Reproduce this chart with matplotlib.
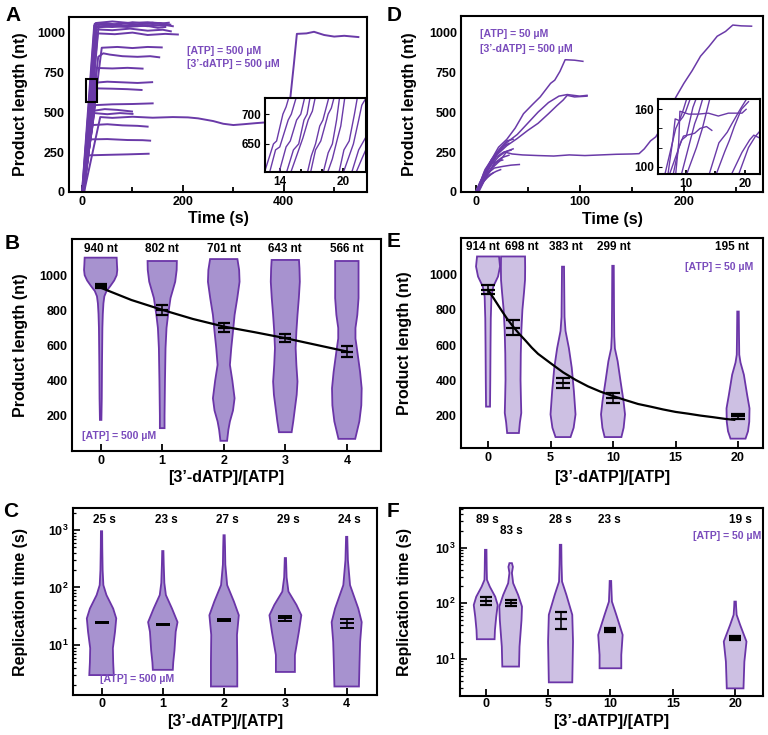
import numpy as np
import matplotlib.pyplot as plt
from matplotlib.patches import Rectangle
from matplotlib.ticker import FixedLocator, LogLocator, NullFormatter

plt.rcParams['font.family'] = ['Liberation Sans', 'DejaVu Sans']
plt.rcParams['font.weight'] = 'bold'
plt.rcParams['axes.labelweight'] = 'bold'
plt.rcParams['mathtext.fontset'] = 'custom'
plt.rcParams['mathtext.rm'] = 'Liberation Sans:bold'
plt.rcParams['mathtext.bf'] = 'Liberation Sans:bold'
plt.rcParams['mathtext.it'] = 'Liberation Sans:bold'
plt.rcParams['axes.linewidth'] = 1.5

TRACE_COLOR = '#6a3aa8'
NOTE_COLOR = '#7a4cbc'
FILL_DARK = '#a792cf'
FILL_LIGHT = '#cdc0e3'
EDGE_COLOR = '#6b35a8'
TICK_FS = 9
LABEL_FS = 11.5
NOTE_FS = 7.6

# ---------------- panel A : single traces, [ATP] = 500 uM ----------------
a_traces = [
    [(0, 0), (24, 1045), (45, 1060), (70, 1050), (100, 1065), (130, 1055), (155, 1060), (175, 1050)],
    [(1, 0), (25, 1055), (50, 1045), (80, 1060), (110, 1050), (140, 1062), (170, 1045), (180, 1040)],
    [(2, 0), (26, 1030), (55, 1040), (90, 1035), (125, 1045), (150, 1030), (165, 1035)],
    [(0, 0), (27, 1060), (60, 1070), (95, 1060), (130, 1065), (160, 1058), (172, 1062)],
    [(3, 0), (29, 1020), (60, 1015), (95, 1025), (130, 1012), (160, 1018), (176, 1008)],
    [(2, 0), (31, 995), (65, 990), (100, 1000), (130, 985), (165, 992), (190, 988)],
    [(4, 0), (33, 1050), (70, 1045), (110, 1040), (140, 1048), (165, 1042)],
    [(1, 0), (28, 1040), (60, 1035), (100, 1050), (130, 1040), (150, 1045)],
    [(3, 0), (39, 905), (70, 910), (100, 903), (130, 910), (158, 907)],
    [(2, 0), (32, 848), (42, 870), (55, 862), (80, 852), (110, 848), (135, 852), (153, 845)],
    [(2, 0), (29, 778), (60, 775), (90, 779), (120, 774)],
    [(1, 0), (27, 686), (50, 692), (80, 688), (110, 684), (139, 689)],
    [(3, 0), (29, 650), (60, 648), (90, 645), (118, 640)],
    [(2, 0), (26, 545), (60, 550), (100, 552), (140, 556)],
    [(1, 0), (24, 510), (45, 520), (70, 515), (99, 505)],
    [(2, 0), (24, 495), (50, 488), (75, 495), (100, 490)],
    [(1, 0), (21, 420), (50, 425), (80, 418), (110, 415), (130, 410)],
    [(2, 0), (16, 330), (50, 332), (90, 326), (120, 325), (135, 322)],
    [(3, 0), (13, 230), (50, 233), (90, 236), (132, 240)],
]
a_long_trace = [(4, 0), (36, 470), (60, 465), (100, 472), (140, 466), (180, 470), (210, 468),
                (230, 462), (260, 445), (280, 428), (300, 420), (320, 425), (345, 432),
                (370, 438), (390, 428), (405, 420), (412, 560), (420, 800), (426, 992),
                (445, 995), (460, 1005), (480, 985), (500, 975), (520, 980), (548, 972)]
a_inset_traces = [
    [(12.5, 600), (13.4, 650), (13.7, 655), (14.3, 700), (14.6, 712), (14.9, 730)],
    [(13.0, 600), (13.6, 640), (14.0, 645), (14.8, 690), (15.1, 700), (15.6, 730)],
    [(13.9, 600), (14.6, 645), (15.0, 655), (15.6, 690), (16.0, 700), (16.4, 730)],
    [(14.6, 600), (15.3, 640), (15.8, 650), (16.3, 690), (16.6, 700), (16.9, 730)],
    [(15.0, 600), (15.7, 635), (16.2, 660), (16.7, 690), (17.1, 705), (17.4, 730)],
    [(16.6, 600), (17.0, 630), (17.4, 650), (17.8, 680), (18.1, 690), (18.7, 730)],
    [(16.9, 600), (17.4, 640), (17.9, 655), (18.6, 700), (18.9, 710), (19.2, 730)],
    [(18.1, 600), (18.6, 635), (19.0, 650), (19.4, 690), (19.7, 730)],
    [(18.5, 600), (19.0, 625), (19.5, 660), (19.8, 680), (20.2, 730)],
    [(19.6, 600), (20.1, 640), (20.6, 655), (21.1, 700), (21.4, 730)],
    [(20.0, 600), (20.6, 630), (21.0, 650), (21.5, 690), (21.8, 715), (22.3, 730)],
    [(20.8, 600), (21.5, 640), (22.3, 665)],
    [(21.2, 600), (21.8, 625), (22.3, 645)],
]
a_box = (8.6, 566, 21.2, 142)

# ---------------- panel D : single traces, [ATP] = 50 uM ----------------
d_traces = [
    [(0, 0), (8, 90), (15, 170), (22, 220), (28, 250), (35, 238), (45, 232), (60, 228), (75, 225),
     (90, 232), (105, 228), (120, 232), (135, 236), (150, 238), (157, 240), (162, 270), (168, 320),
     (173, 345), (180, 420), (186, 500), (192, 590), (200, 680), (208, 760), (216, 850),
     (224, 910), (232, 975), (240, 1005), (247, 1045), (255, 1040), (265, 1038)],
    [(0, 0), (8, 100), (15, 200), (22, 280), (30, 330), (38, 400), (46, 490), (55, 550), (62, 595),
     (72, 680), (76, 700), (81, 755), (86, 828), (95, 825), (103, 818)],
    [(0, 0), (10, 120), (20, 230), (30, 290), (40, 335), (50, 385), (60, 430), (70, 490), (78, 540),
     (84, 575), (88, 605), (95, 595), (107, 600)],
    [(1, 0), (10, 130), (20, 240), (30, 310), (40, 360), (50, 430), (60, 500), (70, 560), (80, 600),
     (88, 610), (100, 600), (107, 605)],
    [(0, 0), (10, 110), (18, 150), (26, 160), (34, 168), (42, 172)],
    [(0, 0), (6, 70), (12, 150), (20, 220), (27, 250), (34, 262)],
    [(1, 0), (8, 120), (15, 200), (22, 250), (28, 290), (32, 305)],
    [(2, 0), (10, 100), (18, 180), (25, 215), (32, 230)],
    [(0, 0), (7, 60), (14, 110), (20, 130), (24, 140)],
    [(1, 0), (9, 140), (16, 210), (23, 270), (30, 320), (36, 330)],
    [(3, 0), (12, 120), (20, 190), (26, 200)],
    [(0, 0), (5, 50), (11, 90), (17, 120)],
    [(2, 0), (9, 80), (16, 150), (24, 200), (30, 255), (36, 270)],
    [(0, 0), (4, 60), (10, 130), (16, 180), (22, 190)],
]
d_inset_traces = [
    [(6.5, 93), (8.3, 140), (8.9, 148), (9.6, 160), (10.2, 172)],
    [(7.0, 93), (7.8, 128), (8.2, 150), (9.0, 148), (9.5, 152), (10.0, 158), (10.8, 172)],
    [(7.3, 93), (9.3, 128), (10.1, 132), (11.2, 162), (11.8, 172)],
    [(7.9, 93), (8.8, 120), (9.6, 132), (11.5, 135), (12.4, 140), (13.5, 142), (14.4, 138)],
    [(8.3, 93), (8.8, 125), (9.0, 158), (10.5, 155), (12.1, 155), (13.8, 156), (15.5, 153),
     (17.2, 156), (19.5, 156), (20.2, 160)],
    [(9.3, 93), (11.5, 145), (12.1, 155), (12.9, 172)],
    [(10.2, 93), (11.8, 120), (12.8, 140), (14.1, 172)],
    [(14.0, 93), (15.6, 125), (17.0, 136), (17.8, 145), (19.2, 160), (20.4, 172)],
    [(15.2, 93), (16.6, 116), (17.4, 128), (18.2, 142), (19.4, 160), (20.6, 168)],
    [(17.8, 93), (19.5, 115), (20.8, 128), (21.5, 133), (22.5, 130)],
    [(19.0, 93), (20.6, 120), (21.8, 132), (22.5, 137)],
]

# ---------------- panel B : product length, [ATP] = 500 uM ----------------
b_x = [0, 1, 2, 3, 4]
b_levels = [
    [177, 300, 500, 700, 780, 840, 880, 910, 940, 970, 1000, 1030, 1060, 1100],
    [130, 200, 400, 585, 700, 774, 870, 963, 1030, 1081],
    [58, 120, 168, 230, 300, 400, 490, 585, 680, 774, 870, 963, 1030, 1092],
    [107, 170, 244, 320, 395, 490, 585, 680, 774, 870, 963, 1040, 1087],
    [69, 168, 260, 357, 450, 566, 640, 700, 774, 870, 1081],
]
b_widths = [
    [0.012, 0.018, 0.022, 0.028, 0.035, 0.045, 0.06, 0.095, 0.16, 0.22, 0.26, 0.27, 0.265, 0.26],
    [0.038, 0.038, 0.045, 0.054, 0.07, 0.095, 0.135, 0.211, 0.235, 0.238],
    [0.054, 0.075, 0.10, 0.15, 0.176, 0.14, 0.10, 0.122, 0.15, 0.176, 0.22, 0.257, 0.25, 0.222],
    [0.103, 0.13, 0.157, 0.185, 0.198, 0.18, 0.168, 0.18, 0.198, 0.22, 0.236, 0.23, 0.222],
    [0.136, 0.203, 0.235, 0.241, 0.215, 0.17, 0.14, 0.14, 0.17, 0.19, 0.19],
]
b_mean = [940, 802, 701, 643, 566]
b_err = [12, 28, 25, 25, 30]
b_fit_x = [0, 0.5, 1, 1.5, 2, 2.5, 3, 3.5, 4]
b_fit_y = [929, 859, 803, 751, 708, 676, 642, 604, 566]
b_labels = ['940 nt', '802 nt', '701 nt', '643 nt', '566 nt']

# ---------------- panel E : product length, [ATP] = 50 uM ----------------
e_x = [0, 2, 6, 10, 20]
e_levels = [
    [250, 400, 600, 750, 820, 875, 932, 989, 1046, 1103],
    [100, 160, 214, 300, 403, 550, 687, 800, 900, 970, 1040, 1103],
    [77, 130, 206, 337, 470, 582, 680, 760, 900, 1045],
    [77, 130, 206, 282, 395, 508, 580, 650, 800, 1050],
    [68, 110, 164, 240, 317, 431, 500, 545, 650, 790],
]
e_widths = [
    [0.16, 0.18, 0.2, 0.22, 0.25, 0.27, 0.42, 0.8, 0.96, 0.88],
    [0.47, 0.55, 0.66, 0.63, 0.6, 0.62, 0.67, 0.75, 0.88, 0.96, 0.97, 0.96],
    [0.6, 0.85, 1.0, 0.87, 0.7, 0.47, 0.2, 0.12, 0.1, 0.08],
    [0.67, 0.85, 0.96, 0.84, 0.6, 0.37, 0.15, 0.1, 0.08, 0.06],
    [0.6, 0.8, 0.9, 0.92, 0.73, 0.47, 0.2, 0.1, 0.08, 0.06],
]
e_mean = [914, 698, 383, 299, 195]
e_err = [25, 43, 28, 27, 15]
e_fit_x = [0, 0.5, 1, 1.5, 2, 2.5, 3, 3.5, 4, 5, 6, 7, 8, 9, 10, 11, 12, 13, 14, 15, 16, 17,
           18, 19, 19.7]
e_fit_y = [913, 860, 805, 752, 705, 663, 625, 585, 550, 497, 445, 402, 365, 335, 310, 287,
           265, 250, 234, 220, 210, 199, 190, 180, 175]
e_labels = ['914 nt', '698 nt', '383 nt', '299 nt', '195 nt']
e_label_x = [-0.4, 2.7, 6.2, 10.1, 19.5]

# ---------------- panel C : replication time, [ATP] = 500 uM ----------------
c_x = [0, 1, 2, 3, 4]
c_levels = [
    [3.0, 5, 8.8, 17, 29, 43, 74, 110, 200, 500, 950],
    [3.7, 5, 8, 17, 25, 43, 74, 120, 250, 430],
    [1.9, 5, 15, 33, 57, 110, 250, 500, 810],
    [3.4, 6.7, 17, 33, 50, 85, 150, 325],
    [1.9, 5, 11.4, 25, 43, 110, 300, 760],
]
c_widths = [
    [0.2, 0.19, 0.185, 0.22, 0.24, 0.19, 0.08, 0.03, 0.018, 0.012, 0.01],
    [0.163, 0.17, 0.19, 0.21, 0.24, 0.15, 0.05, 0.025, 0.015, 0.01],
    [0.215, 0.215, 0.21, 0.24, 0.16, 0.05, 0.02, 0.015, 0.01],
    [0.155, 0.155, 0.22, 0.26, 0.18, 0.05, 0.02, 0.01],
    [0.2, 0.21, 0.22, 0.245, 0.19, 0.055, 0.02, 0.01],
]
c_mean = [25, 23, 27, 29, 24]
c_err = [0.4, 0.5, 0.8, 2.5, 4]
c_labels = ['25 s', '23 s', '27 s', '29 s', '24 s']

# ---------------- panel F : replication time, [ATP] = 50 uM ----------------
f_x = [0, 2, 6, 10, 20]
f_levels = [
    [22.6, 33, 57, 93, 131, 198, 263, 400, 910],
    [7.3, 16.6, 50, 87, 141, 229, 350, 450, 525],
    [3.8, 20.5, 62, 141, 245, 500, 1120],
    [6.8, 11.8, 27, 62, 107, 180, 251],
    [2.96, 8.9, 20.5, 41, 62, 85, 107],
]
f_widths = [
    [0.71, 0.74, 0.84, 0.96, 0.76, 0.33, 0.1, 0.08, 0.06],
    [0.67, 0.71, 0.87, 0.91, 0.6, 0.2, 0.1, 0.18, 0.1],
    [0.94, 1.0, 0.94, 0.47, 0.12, 0.08, 0.06],
    [0.87, 0.87, 0.98, 0.47, 0.12, 0.08, 0.06],
    [0.67, 0.74, 0.91, 0.4, 0.12, 0.08, 0.06],
]
f_mean = [110, 103, 52, 33, 23.5]
f_low = [93, 89, 35, 30, 21.5]
f_high = [128, 115, 69, 36, 25.5]
f_labels = ['89 s', '83 s', '28 s', '23 s', '19 s']
f_label_x = [0.13, 2.05, 6.0, 9.9, 20.4]
f_label_y = [3150, 1990, 3150, 3150, 3150]


def plot_traces(ax, traces, lw):
    for tr in traces:
        t = [p[0] for p in tr]
        l = [p[1] for p in tr]
        ax.plot(t, l, color=TRACE_COLOR, lw=lw, solid_joinstyle='round')


def draw_violin(ax, x, levels, widths, face):
    levels = np.asarray(levels, dtype=float)
    widths = np.asarray(widths, dtype=float)
    xs = np.concatenate([x - widths, (x + widths)[::-1]])
    ys = np.concatenate([levels, levels[::-1]])
    ax.fill(xs, ys, facecolor=face, edgecolor=EDGE_COLOR, lw=1.3, zorder=2)


def mean_bars(ax, x, mean, yerr, cap, mew=1.6):
    ax.errorbar(x, mean, yerr=yerr, fmt='_', color='black', ms=cap, mew=mew,
                elinewidth=1.1, capsize=cap / 2, capthick=1.1, zorder=4)


def style_axis(ax):
    ax.tick_params(axis='both', which='both', labelsize=TICK_FS, direction='in', pad=3)
    ax.tick_params(axis='x', which='major', length=5, width=1.3)
    ax.tick_params(axis='x', which='minor', length=3.5, width=1.3)
    for lab in ax.get_xticklabels() + ax.get_yticklabels():
        lab.set_fontweight('bold')


def panel_letter(fig, x, y, s):
    fig.text(x / 768, 1 - y / 735, s, fontsize=15, fontweight='bold', ha='left', va='top')


fig = plt.figure(figsize=(7.68, 7.35), dpi=100)

# ---- A ----
ax = fig.add_axes([0.0898, 0.7388, 0.3880, 0.2381])
plot_traces(ax, a_traces, 1.4)
plot_traces(ax, [a_long_trace], 1.4)
ax.add_patch(Rectangle(a_box[:2], a_box[2], a_box[3], fill=False, ec='black', lw=1.5, zorder=5))
ax.set_xlim(-26, 565)
ax.set_ylim(0, 1098)
ax.set_xticks([0, 200, 400])
ax.xaxis.set_minor_locator(FixedLocator([100, 300, 500]))
ax.set_yticks([0, 250, 500, 750, 1000])
style_axis(ax)
ax.tick_params(axis='y', length=0)
ax.set_xlabel('Time (s)', fontsize=LABEL_FS)
ax.set_ylabel('Product length (nt)', fontsize=LABEL_FS)
ax.xaxis.set_label_coords(0.5, -0.11)
ax.yaxis.set_label_coords(-0.139, 0.5)
ax.text(208, 887, '[ATP] = 500 µM', color=NOTE_COLOR, fontsize=NOTE_FS, va='center')
ax.text(208, 804, '[3’-dATP] = 500 µM', color=NOTE_COLOR, fontsize=NOTE_FS, va='center')

axi = fig.add_axes([0.3451, 0.7660, 0.1315, 0.1007])
plot_traces(axi, a_inset_traces, 1.0)
axi.set_xlim(12.6, 22.2)
axi.set_ylim(603, 727)
axi.set_xticks([14, 20])
axi.xaxis.set_minor_locator(FixedLocator([16, 18]))
axi.set_yticks([650, 700])
style_axis(axi)
axi.tick_params(axis='both', labelsize=8.5)
axi.tick_params(axis='y', length=3)
axi.tick_params(axis='x', which='major', length=3)
axi.tick_params(axis='x', which='minor', length=2)

# ---- D ----
ax = fig.add_axes([0.6003, 0.7388, 0.3932, 0.2395])
plot_traces(ax, d_traces, 1.1)
ax.set_xlim(-14, 276)
ax.set_ylim(0, 1102)
ax.set_xticks([0, 100, 200])
ax.xaxis.set_minor_locator(FixedLocator([50, 150, 250]))
ax.set_yticks([0, 250, 500, 750, 1000])
style_axis(ax)
ax.tick_params(axis='y', length=0)
ax.set_xlabel('Time (s)', fontsize=LABEL_FS)
ax.set_ylabel('Product length (nt)', fontsize=LABEL_FS)
ax.xaxis.set_label_coords(0.5, -0.115)
ax.yaxis.set_label_coords(-0.145, 0.5)
ax.text(3.8, 987, '[ATP] = 50 µM', color=NOTE_COLOR, fontsize=NOTE_FS, va='center')
ax.text(3.8, 893, '[3’-dATP] = 500 µM', color=NOTE_COLOR, fontsize=NOTE_FS, va='center')

axi = fig.add_axes([0.8568, 0.7633, 0.1324, 0.1020])
plot_traces(axi, d_inset_traces, 1.0)
axi.set_xlim(5.3, 22.5)
axi.set_ylim(92.4, 170.8)
axi.set_xticks([10, 20])
axi.xaxis.set_minor_locator(FixedLocator([15]))
axi.set_yticks([100, 160])
axi.yaxis.set_minor_locator(FixedLocator([120, 140]))
style_axis(axi)
axi.tick_params(axis='both', labelsize=8.5)
axi.tick_params(axis='y', which='both', length=3)
axi.tick_params(axis='x', which='major', length=3)
axi.tick_params(axis='x', which='minor', length=2)

# ---- B ----
ax = fig.add_axes([0.0934, 0.3864, 0.4023, 0.2884])
for x, lev, wid in zip(b_x, b_levels, b_widths):
    draw_violin(ax, x, lev, wid, FILL_DARK)
ax.plot(b_fit_x, b_fit_y, color='black', lw=1.6, zorder=3)
mean_bars(ax, b_x, b_mean, b_err, 8)
for x, s in zip(b_x, b_labels):
    ax.text(x, 1148, s, fontsize=8.5, ha='center', va='center')
ax.text(-0.31, 88, '[ATP] = 500 µM', color=NOTE_COLOR, fontsize=NOTE_FS, va='center')
ax.set_xlim(-0.47, 4.55)
ax.set_ylim(0, 1206)
ax.set_xticks(b_x)
ax.set_yticks([200, 400, 600, 800, 1000])
style_axis(ax)
ax.tick_params(axis='y', length=0)
ax.set_xlabel('[3’-dATP]/[ATP]', fontsize=LABEL_FS)
ax.set_ylabel('Product length (nt)', fontsize=LABEL_FS)
ax.xaxis.set_label_coords(0.5, -0.09)
ax.yaxis.set_label_coords(-0.14, 0.5)

# ---- E ----
ax = fig.add_axes([0.6003, 0.3905, 0.3932, 0.2857])
for x, lev, wid in zip(e_x, e_levels, e_widths):
    draw_violin(ax, x, lev, wid, FILL_LIGHT)
ax.plot(e_fit_x, e_fit_y, color='black', lw=1.6, zorder=3)
mean_bars(ax, e_x, e_mean, e_err, 9.5)
for x, s in zip(e_label_x, e_labels):
    ax.text(x, 1155, s, fontsize=8.5, ha='center', va='center')
ax.text(18.5, 1045, '[ATP] = 50 µM', color=NOTE_COLOR, fontsize=NOTE_FS, ha='center',
        va='center')
ax.set_xlim(-2.16, 22)
ax.set_ylim(15, 1208)
ax.set_xticks([0, 5, 10, 15, 20])
ax.set_yticks([200, 400, 600, 800, 1000])
style_axis(ax)
ax.tick_params(axis='y', length=0)
ax.set_xlabel('[3’-dATP]/[ATP]', fontsize=LABEL_FS)
ax.set_ylabel('Product length (nt)', fontsize=LABEL_FS)
ax.xaxis.set_label_coords(0.5, -0.105)
ax.yaxis.set_label_coords(-0.161, 0.5)

# ---- C ----
ax = fig.add_axes([0.0947, 0.0544, 0.3958, 0.2540])
ax.set_yscale('log')
for x, lev, wid in zip(c_x, c_levels, c_widths):
    draw_violin(ax, x, lev, wid, FILL_DARK)
mean_bars(ax, c_x, c_mean, c_err, 10, mew=1.4)
for x, s in zip(c_x, c_labels):
    ax.text(x + 0.05, 1490, s, fontsize=8.5, ha='center', va='center')
ax.text(-0.03, 2.57, '[ATP] = 500 µM', color=NOTE_COLOR, fontsize=NOTE_FS, va='center')
ax.set_xlim(-0.47, 4.49)
ax.set_ylim(1.35, 2380)
ax.set_xticks(c_x)
ax.set_yticks([10, 100, 1000])
ax.set_yticklabels([r'$\mathbf{10^{1}}$', r'$\mathbf{10^{2}}$', r'$\mathbf{10^{3}}$'])
ax.yaxis.set_minor_locator(LogLocator(base=10, subs=np.arange(2, 10)))
ax.yaxis.set_minor_formatter(NullFormatter())
style_axis(ax)
ax.tick_params(axis='x', pad=2)
ax.tick_params(axis='y', which='major', length=5, width=1.2)
ax.tick_params(axis='y', which='minor', length=2.5, width=0.9)
ax.set_xlabel('[3’-dATP]/[ATP]', fontsize=LABEL_FS)
ax.set_ylabel('Replication time (s)', fontsize=LABEL_FS)
ax.xaxis.set_label_coords(0.5, -0.1)
ax.yaxis.set_label_coords(-0.146, 0.5)

# ---- F ----
ax = fig.add_axes([0.5990, 0.0535, 0.3949, 0.2558])
ax.set_yscale('log')
for x, lev, wid in zip(f_x, f_levels, f_widths):
    draw_violin(ax, x, lev, wid, FILL_LIGHT)
f_yerr = [np.subtract(f_mean, f_low), np.subtract(f_high, f_mean)]
mean_bars(ax, f_x, f_mean, f_yerr, 9)
for x, y, s in zip(f_label_x, f_label_y, f_labels):
    ax.text(x, y, s, fontsize=8.5, ha='center', va='center')
ax.text(19.4, 1580, '[ATP] = 50 µM', color=NOTE_COLOR, fontsize=NOTE_FS, ha='center',
        va='center')
ax.set_xlim(-2.06, 22.26)
ax.set_ylim(2.19, 5200)
ax.set_xticks([0, 5, 10, 15, 20])
ax.set_yticks([10, 100, 1000])
ax.set_yticklabels([r'$\mathbf{10^{1}}$', r'$\mathbf{10^{2}}$', r'$\mathbf{10^{3}}$'])
ax.yaxis.set_minor_locator(LogLocator(base=10, subs=np.arange(2, 10)))
ax.yaxis.set_minor_formatter(NullFormatter())
style_axis(ax)
ax.tick_params(axis='x', pad=2)
ax.tick_params(axis='y', which='major', length=5, width=1.2)
ax.tick_params(axis='y', which='minor', length=2.5, width=0.9)
ax.set_xlabel('[3’-dATP]/[ATP]', fontsize=LABEL_FS)
ax.set_ylabel('Replication time (s)', fontsize=LABEL_FS)
ax.xaxis.set_label_coords(0.5, -0.1)
ax.yaxis.set_label_coords(-0.157, 0.5)

panel_letter(fig, 5, 6, 'A')
panel_letter(fig, 387, 6, 'D')
panel_letter(fig, 5, 234, 'B')
panel_letter(fig, 387, 232, 'E')
panel_letter(fig, 3, 502, 'C')
panel_letter(fig, 387, 502, 'F')

fig.savefig('out.png', dpi=100)
